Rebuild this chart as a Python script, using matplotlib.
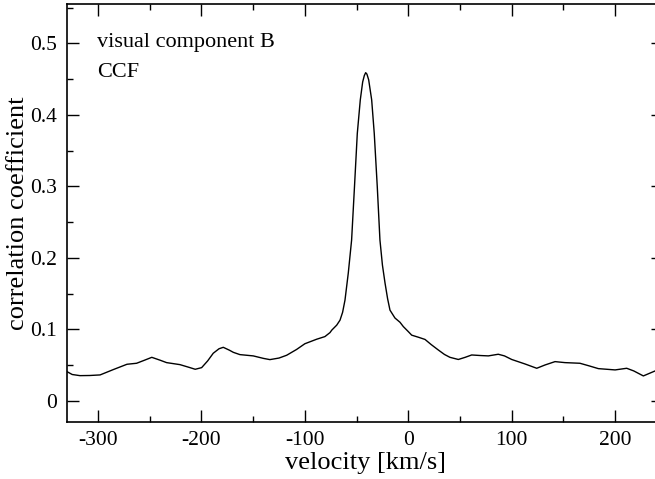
import matplotlib
matplotlib.use("Agg")
import matplotlib.pyplot as plt
from matplotlib.ticker import MultipleLocator

velocity = [-330, -325, -317.5, -308, -298, -285, -272, -262.7, -255, -248, -240, -233.7,
            -220.8, -212, -206, -199.8, -194, -188.6, -183, -178.9, -173, -169.2, -162.8,
            -149.9, -140, -133.8, -125, -117.6, -108, -100, -88.6, -80.6, -75.7, -74, -69.2,
            -66, -63.5, -61.2, -58, -54.8, -52, -49.3, -46.4, -44.1, -42.5, -41.2, -40,
            -38.3, -35.4, -32.9, -30, -27.4, -25, -22.5, -20, -17.7, -12.9, -8, -4.8, 0,
            3.3, 10, 16.2, 22, 29, 35, 40.3, 48.4, 55, 61.3, 70, 77.4, 87, 93, 100, 112.9,
            124.2, 132.2, 141.9, 151.5, 166, 175, 183.8, 200, 211.2, 218, 227.3, 238.7, 246]
ccf = [0.041, 0.037, 0.0354, 0.0356, 0.0364, 0.044, 0.0513, 0.0527, 0.057, 0.061, 0.057,
       0.0536, 0.0508, 0.047, 0.0443, 0.0466, 0.056, 0.0667, 0.073, 0.075, 0.071, 0.068,
       0.0648, 0.063, 0.0595, 0.0578, 0.060, 0.0639, 0.072, 0.080, 0.0863, 0.090, 0.0956,
       0.099, 0.106, 0.113, 0.124, 0.141, 0.179, 0.225, 0.30, 0.374, 0.421, 0.446, 0.455,
       0.459, 0.457, 0.449, 0.421, 0.374, 0.30, 0.225, 0.19, 0.165, 0.143, 0.127, 0.116,
       0.110, 0.104, 0.097, 0.092, 0.089, 0.086, 0.079, 0.0713, 0.065, 0.061, 0.058, 0.061,
       0.0643, 0.0635, 0.063, 0.0653, 0.063, 0.058, 0.0517, 0.0457, 0.0503, 0.055, 0.0536,
       0.0527, 0.049, 0.0452, 0.0434, 0.0457, 0.042, 0.035, 0.042, 0.046]

x_ticks = [-300, -200, -100, 0, 100, 200]
y_ticks = [0, 0.1, 0.2, 0.3, 0.4, 0.5]
y_tick_labels = ["0", "0.1", "0.2", "0.3", "0.4", "0.5"]

plt.rcParams['font.family'] = ['Liberation Serif', 'DejaVu Serif']
plt.rcParams['axes.unicode_minus'] = False

fig = plt.figure(figsize=(6.55, 4.79), dpi=100)
W, H = 655, 479
ax = fig.add_axes([67 / W, (479 - 421.7) / H, (663 - 67) / W, (421.7 - 4) / H])

ax.plot(velocity, ccf, color='black', lw=1.0)

ax.set_xlim(-330, 246.3)
ax.set_ylim(-0.029, 0.555)
ax.set_xticks(x_ticks)
ax.set_yticks(y_ticks)
ax.set_yticklabels(y_tick_labels)
ax.xaxis.set_minor_locator(MultipleLocator(50))
ax.yaxis.set_minor_locator(MultipleLocator(0.05))
ax.tick_params(which='both', direction='in', top=True, right=True, labelsize=15.5, width=1.0)
ax.tick_params(which='major', length=8.5, pad=7)
ax.tick_params(which='minor', length=4.5)
for s in ax.spines.values():
    s.set_linewidth(1.2)

ax.set_xlabel('velocity [km/s]', fontsize=19, labelpad=1)
ax.set_ylabel('correlation coefficient', fontsize=19, labelpad=1)

fig.text(97 / W, 1 - 47 / H, 'visual component B', fontsize=16, va='baseline')
fig.text(97 / W, 1 - 77 / H, 'CCF', fontsize=16, va='baseline')

fig.savefig('out.png', dpi=100)
